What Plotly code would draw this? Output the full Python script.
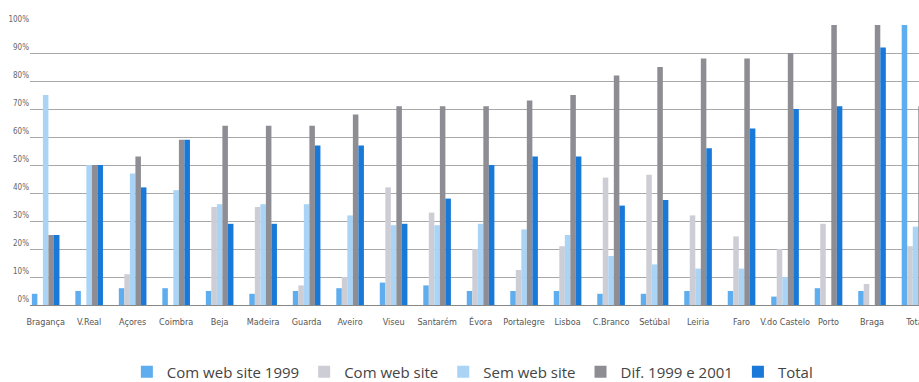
import plotly.graph_objects as go

categories = ["Bragança", "V.Real", "Açores", "Coimbra", "Beja", "Madeira", "Guarda",
              "Aveiro", "Viseu", "Santarém", "Évora", "Portalegre", "Lisboa", "C.Branco",
              "Setúbal", "Leiria", "Faro", "V.do Castelo", "Porto", "Braga", "Total"]

com_web_1999 = [4, 5, 6, 6, 5, 4, 5, 6, 8, 7, 5, 5, 5, 4, 4, 5, 5, 3, 6, 5, 100]
com_web      = [0, 0, 11, 0, 35, 35, 7, 10, 42, 33, 20, 12.5, 21, 45.5, 46.5, 32, 24.5, 20, 29, 7.5, 21]
sem_web      = [75, 50, 47, 41, 36, 36, 36, 32, 28.5, 28.5, 29, 27, 25, 17.5, 14.5, 13, 13, 10, 0, 0, 28]
dif_99_01    = [25, 50, 53, 59, 64, 64, 64, 68, 71, 71, 71, 73, 75, 82, 85, 88, 88, 90, 100, 100, 71]
total        = [25, 50, 42, 59, 29, 29, 57, 57, 29, 38, 50, 53, 53, 35.5, 37.5, 56, 63, 70, 71, 92, 60]

y_ticks = [0, 10, 20, 30, 40, 50, 60, 70, 80, 90, 100]
y_ticktext = [f"{v}%" for v in y_ticks]

series = [
    ("Com web site 1999", com_web_1999, "#5EADEF"),
    ("Com web site", com_web, "#CDCDD5"),
    ("Sem web site", sem_web, "#A9D4F6"),
    ("Dif. 1999 e 2001", dif_99_01, "#8D8D93"),
    ("Total", total, "#1879D8"),
]

narrow = "Liberation Sans Narrow, Arial Narrow, DejaVu Sans Condensed"

fig = go.Figure()
for name, vals, col in series:
    fig.add_trace(go.Bar(x=categories, y=vals, name=name, marker=dict(color=col, line=dict(width=0))))

fig.update_layout(
    width=919, height=382,
    margin=dict(l=30, r=0, t=25, b=77, autoexpand=False),
    paper_bgcolor="white", plot_bgcolor="white",
    barmode="group", bargap=0.365, bargroupgap=0,
    showlegend=True,
    legend=dict(orientation="h", x=0.514, xanchor="center", xref="container",
                y=0.026, yanchor="middle", yref="container",
                font=dict(family="Open Sans", size=15, color="#444444"),
                itemwidth=30, traceorder="normal"),
    font=dict(family=narrow, color="#555555"),
)
fig.update_xaxes(range=[-0.36, 20.08], showgrid=False, showline=False, ticks="",
                 ticklabelstandoff=10, automargin=False,
                 tickfont=dict(size=9, color="#555555", family=narrow),
                 tickangle=0)
fig.update_yaxes(range=[0, 100], tickvals=y_ticks, ticktext=y_ticktext,
                 showgrid=True, gridcolor="#A8A8A8", gridwidth=1,
                 zeroline=True, zerolinecolor="#888888", zerolinewidth=1,
                 ticklabelposition="outside top", ticks="", automargin=False,
                 tickfont=dict(size=8, color="#666666", family=narrow))

fig.write_html("out.html")
